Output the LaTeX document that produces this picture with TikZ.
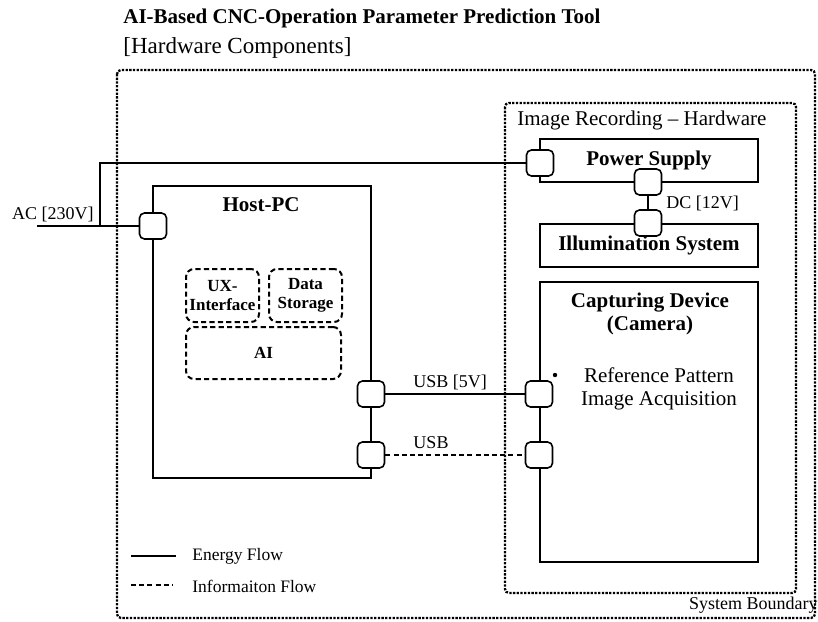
\documentclass[tikz,border=0pt]{standalone}
\usepackage{fontspec}
\setmainfont{Liberation Serif}
\usepackage{xcolor}
\definecolor{hwink}{HTML}{000000}

\begin{document}
\begin{tikzpicture}[x=0.5pt,y=-0.5pt,
  point/.style={coordinate},
  unit/.style={draw=hwink, line width=1pt, rectangle, minimum width=109pt, minimum height=21.5pt, text=hwink, font=\fontsize{10.5}{11.5}\selectfont\bfseries},
  port/.style={draw=hwink, fill=white, line width=0.8pt, rounded corners=2.5pt, rectangle, minimum width=13.5pt, minimum height=13pt, inner sep=0pt},
  soft/.style={draw=hwink, line width=1pt, dash pattern=on 2.6pt off 1.6pt, rounded corners=4pt, rectangle, minimum height=26.5pt, align=center, inner sep=0pt, text=hwink, font=\fontsize{8.5}{9.8}\selectfont\bfseries},
  bound/.style={draw=hwink, line width=1.15pt, dash pattern=on 1.15pt off 0.7pt, rounded corners=2pt},
  tag/.style={text=hwink, font=\fontsize{9}{10}\selectfont, inner sep=0pt},
  energy/.style={draw=hwink, line width=0.7pt},
  info/.style={draw=hwink, line width=0.7pt, dash pattern=on 2.5pt off 1.6pt}]
\useasboundingbox (0,0) rectangle (818,621);
% heading
\node[anchor=west, inner sep=0pt, font=\fontsize{10.5}{12}\selectfont\bfseries] (title) at (123,18) {AI-Based CNC-Operation Parameter Prediction Tool};
\node[anchor=west, inner sep=0pt, font=\fontsize{11.5}{13}\selectfont] (subtitle) at (123,48) {[Hardware Components]};
% boundaries
\draw[bound] (117,70) rectangle (815,618);
\draw[bound] (505,103) rectangle (796,593);
\node[anchor=west, inner sep=0pt, font=\fontsize{10.5}{12}\selectfont] (imgrec) at (517,120) {Image Recording -- Hardware};
\node[tag, anchor=south east] (sysb) at (818,614) {System Boundary};
% host pc
\node[unit, minimum height=146pt] (host) at (262,332) {};
\node[inner sep=0pt, font=\fontsize{10.5}{12}\selectfont\bfseries] (hosttitle) at (261,205) {Host-PC};
\node[soft, minimum width=36.5pt] (ux) at (222.5,295.5) {UX-\\Interface};
\node[soft, minimum width=36.5pt] (data) at (305.5,295.5) {Data\\Storage};
\node[soft, minimum width=77.5pt, minimum height=26pt] (ai) at (263.5,353) {AI};
% image recording hardware
\node[unit] (ps) at (649,160.5) {Power Supply};
\node[unit] (illum) at (649,245) {Illumination System};
\node[unit, minimum height=140pt] (cam) at (649,422) {};
\node[inner sep=0pt, align=center, font=\fontsize{10.5}{11.5}\selectfont\bfseries] (camtitle) at (650,314) {Capturing Device\\(Camera)};
\node[inner sep=0pt, align=center, font=\fontsize{10.5}{11.5}\selectfont] (acq) at (659,389) {Reference Pattern\\Image Acquisition};
\fill[hwink] (555,375) circle (1.1pt);
% ports
\node[port] (hostac) at (153,226) {};
\node[port] (psin) at (540,163) {};
\node[port] (psout) at (648,182) {};
\node[port] (illin) at (648,223) {};
\node[port] (hostusb1) at (371,394) {};
\node[port] (camusb1) at (539,394) {};
\node[port] (hostusb2) at (371,455) {};
\node[port] (camusb2) at (539,455) {};
\node[point] (acin) at (37,226) {};
\node[point] (acbranch) at (100,226) {};
% flows
\draw[energy] (acin) -- (hostac);
\draw[energy] (acbranch) |- (psin);
\draw[energy] (psout) -- (illin);
\draw[energy] (hostusb1) -- (camusb1);
\draw[info] (hostusb2) -- (camusb2);
\node[tag, anchor=south east] (ac) at (94,222) {AC [230V]};
\node[tag, anchor=west] (dc) at (666,203) {DC [12V]};
\node[tag] (usbp) at (450,382) {USB [5V]};
\node[tag] (usbd) at (431,443) {USB};
% legend
\node[point] (l1) at (131,556) {};
\node[point] (l2) at (176,556) {};
\node[point] (l3) at (131,585) {};
\node[point] (l4) at (173,585) {};
\draw[energy, line width=1pt] (l1) -- (l2);
\draw[info, line width=1pt] (l3) -- (l4);
\node[tag, anchor=west, font=\fontsize{8.75}{10}\selectfont] (leg1) at (192,556) {Energy Flow};
\node[tag, anchor=west, font=\fontsize{8.75}{10}\selectfont] (leg2) at (192,586) {Informaiton Flow};
\end{tikzpicture}
\end{document}
